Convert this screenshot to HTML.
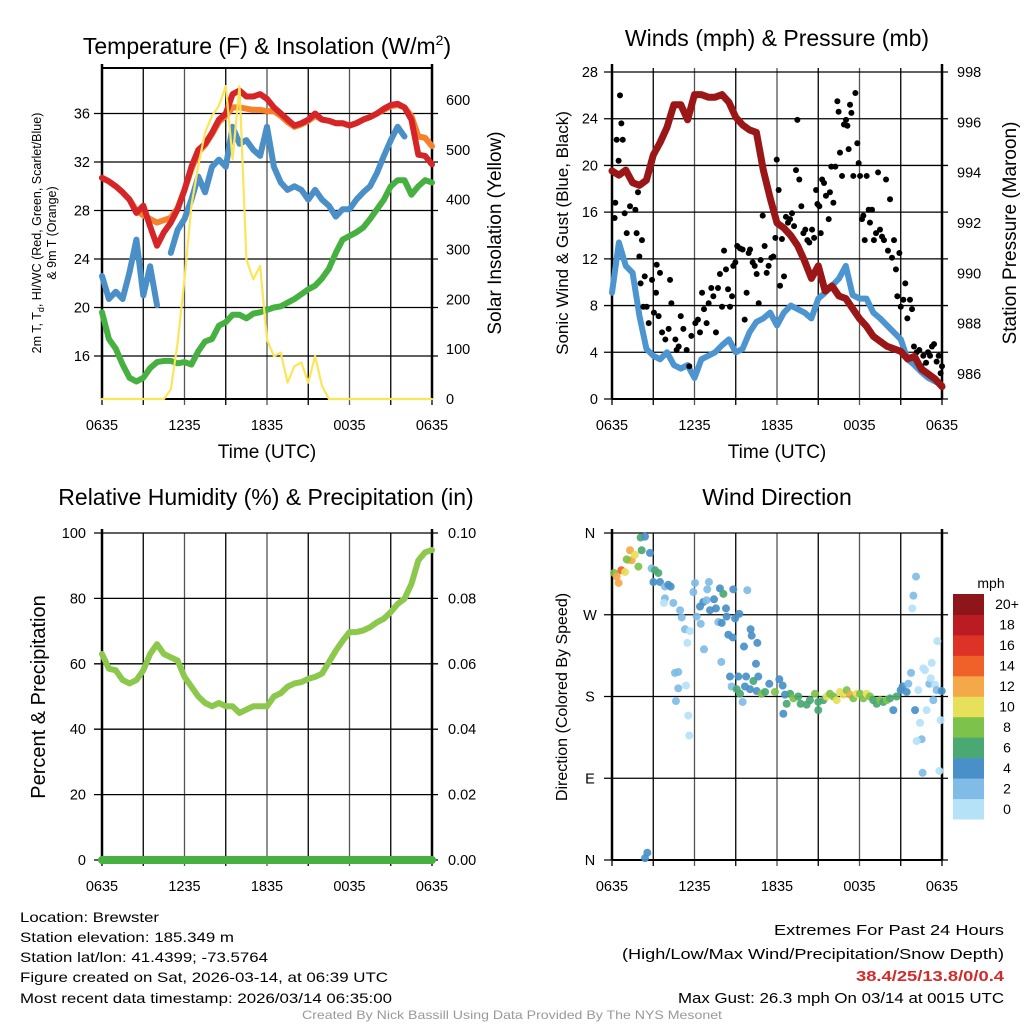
<!DOCTYPE html>
<html><head><meta charset="utf-8"><style>
html,body{margin:0;padding:0;background:#fff;}
svg{display:block;font-family:"Liberation Sans",sans-serif;}
</style></head><body>
<svg id="s" width="1024" height="1024" viewBox="0 0 1024 1024" xmlns="http://www.w3.org/2000/svg">
<g id="g1"></g>
<g id="g2"></g>
<g id="g3"></g>
<g id="g4"></g>
<g id="txt">
<text x="267" y="54" font-size="23" text-anchor="middle">Temperature (F) &amp; Insolation (W/m<tspan font-size="14" dy="-9">2</tspan><tspan dy="9">)</tspan></text>
<text x="777" y="46" font-size="23" text-anchor="middle">Winds (mph) &amp; Pressure (mb)</text>
<text x="266" y="505" font-size="23" text-anchor="middle">Relative Humidity (%) &amp; Precipitation (in)</text>
<text x="777" y="505" font-size="23" text-anchor="middle">Wind Direction</text>
<text x="267" y="458" font-size="19" text-anchor="middle">Time (UTC)</text>
<text x="777" y="458" font-size="19" text-anchor="middle">Time (UTC)</text>
<text transform="translate(41,233) rotate(-90)" font-size="12.5" text-anchor="middle">2m T, T<tspan font-size="9" dy="3">d</tspan><tspan dy="-3">, HI/WC (Red, Green, Scarlet/Blue)</tspan></text>
<text transform="translate(56,233) rotate(-90)" font-size="12.5" text-anchor="middle">&amp; 9m T (Orange)</text>
<text transform="translate(501,233) rotate(-90)" font-size="19" text-anchor="middle">Solar Insolation (Yellow)</text>
<text transform="translate(568,233) rotate(-90)" font-size="17" text-anchor="middle">Sonic Wind &amp; Gust (Blue, Black)</text>
<text transform="translate(1016,233) rotate(-90)" font-size="19" text-anchor="middle">Station Pressure (Maroon)</text>
<text transform="translate(45,697) rotate(-90)" font-size="20" text-anchor="middle">Percent &amp; Precipitation</text>
<text transform="translate(567,697) rotate(-90)" font-size="16" text-anchor="middle">Direction (Colored By Speed)</text>
<text x="991" y="588" font-size="14" text-anchor="middle">mph</text>
<g font-size="14">
<text x="20" y="922" textLength="139" lengthAdjust="spacingAndGlyphs">Location: Brewster</text>
<text x="20" y="942" textLength="214" lengthAdjust="spacingAndGlyphs">Station elevation: 185.349 m</text>
<text x="20" y="962" textLength="248" lengthAdjust="spacingAndGlyphs">Station lat/lon: 41.4399; -73.5764</text>
<text x="20" y="982" textLength="368" lengthAdjust="spacingAndGlyphs">Figure created on Sat, 2026-03-14, at 06:39 UTC</text>
<text x="20" y="1003" textLength="372" lengthAdjust="spacingAndGlyphs">Most recent data timestamp: 2026/03/14 06:35:00</text>
</g>
<g font-size="15">
<text x="774" y="935" textLength="230" lengthAdjust="spacingAndGlyphs">Extremes For Past 24 Hours</text>
<text x="622" y="959" textLength="382" lengthAdjust="spacingAndGlyphs">(High/Low/Max Wind/Precipitation/Snow Depth)</text>
<text x="856" y="981" textLength="148" lengthAdjust="spacingAndGlyphs" fill="#d42a2a" font-weight="bold">38.4/25/13.8/0/0.4</text>
<text x="678" y="1003" textLength="326" lengthAdjust="spacingAndGlyphs">Max Gust: 26.3 mph On 03/14 at 0015 UTC</text>
</g>
<text x="302" y="1019" font-size="12" fill="#999" textLength="420" lengthAdjust="spacingAndGlyphs">Created By Nick Bassill Using Data Provided By The NYS Mesonet</text>
</g>
</svg>
<script>
// ---- data (half-hourly, hours since 0635 UTC) ----
const tempRed = [30.7,30.4,30,29.5,28.9,27.8,28.4,26.7,25.1,26.2,27,28.1,29.7,31.6,33,33.5,34.4,35.5,36,37.6,37.9,37.4,37.4,37.6,37.2,36.5,36,35.5,35,35.2,35.5,36,35.5,35.4,35.2,35.2,35,35.2,35.5,35.7,36,36.4,36.7,36.8,36.5,35.5,32.6,32.5,31.8];
const tempOrange = [30.7,30.4,30,29.5,28.9,28,27.6,27.3,27,27.2,27.4,28.2,29.7,31.4,32.8,33.4,34.3,35.3,35.8,36.5,36.5,36.4,36.3,36.3,36.2,36.2,35.8,35.3,34.9,35.1,35.4,35.8,35.5,35.4,35.2,35.2,35,35.2,35.5,35.7,36,36.3,36.6,36.7,36.5,35.8,34.1,34,33.3];
const heatIndexBlue = [22.6,20.7,21.3,20.7,22.9,25.6,21,23.4,20.2,null,24.5,26.4,27.3,28.9,30.8,29.5,31.6,32.2,31.6,34.9,33.5,33.8,33,32.5,34.9,31.6,30.3,29.7,30,29.7,28.9,29.7,28.9,28.4,27.5,28.1,28.1,28.9,29.5,30,31.1,32.5,33.8,34.9,34.1,null,null,null,null];
const dewGreen = [19.6,17.4,16.6,15.3,14.2,13.9,14.2,15,15.5,15.6,15.6,15.4,15.5,15.3,16.4,17.2,17.4,18.5,18.8,19.4,19.4,19.1,19.5,19.6,19.8,20,20.1,20.4,20.7,21.1,21.5,21.8,22.4,23.2,24.5,25.6,25.9,26.2,26.6,27.3,28.1,28.9,30,30.5,30.5,29.3,30,30.5,30.3];
const insolation = [0,0,0,0,0,0,0,0,0,0,19,112,240,388,468,535,568,588,628,481,628,280,240,267,119,86,93,33,66,73,33,86,26,0,0,0,0,0,0,0,0,0,0,0,0,0,0,0,0];
const sonicWind = [9.1,13.4,11.4,10.8,7.1,4.3,3.7,3.4,4,2.9,2.6,2.9,1.8,3.4,3.7,4,4.6,5.1,4,4.3,5.7,6.6,6.9,7.4,6.3,7.4,8,7.7,7.4,6.9,8.6,9.1,9.7,10.3,11.4,8.9,8.6,8.6,7.4,6.9,6.3,5.7,5.1,3.4,2.9,2.3,1.8,1.5,1.2];
const pressure = [994.07,993.9,994.1,993.6,993.5,993.7,994.7,995.2,995.8,996.7,996.7,996.1,997.1,997.1,997,997,997.1,996.8,996.2,995.9,995.7,995.6,994.1,993,992,991.8,991.5,991.1,990.5,989.8,990.3,989.3,989.5,989.1,989,988.6,988.2,987.9,987.5,987.3,987.1,987,986.9,986.6,986.7,986.2,986,985.8,985.5];
const relHumidity = [63,58.5,58,55,54,55,58,63,66,63,62,61,56,53,50,48,47,48,47,47,45,46,47,47,47,50,51,53,54,54.4,55.4,56,57,60.5,64,67,69.7,69.7,70.2,71.2,72.7,73.8,75.8,78.3,79.9,84.4,91.6,94.1,94.8];
const precip = [0,0,0,0,0,0,0,0,0,0,0,0,0,0,0,0,0,0,0,0,0,0,0,0,0,0,0,0,0,0,0,0,0,0,0,0,0,0,0,0,0,0,0,0,0,0,0,0,0];
const gustHours = [.19,.24,.34,.58,.68,.78,.48,.92,1.07,1.31,1.7,1.79,1.89,1.99,2.08,2.18,2.28,2.38,2.52,2.67,2.91,3.05,3.2,3.25,3.39,3.49,3.64,3.88,4.12,4.22,4.32,4.61,4.7,4.85,5,5.19,5.43,5.62,5.77,6.06,6.25,6.4,6.55,6.69,6.88,7.03,7.22,7.37,7.56,7.71,7.85,8,8.15,8.29,8.44,8.58,8.73,8.82,8.97,9.11,9.31,9.5,9.65,9.79,9.94,10.04,10.23,10.38,10.52,10.67,10.81,10.96,11.1,11.25,11.39,11.59,11.73,11.88,11.98,12.12,12.22,12.36,12.51,12.65,12.8,12.95,13.09,13.24,13.38,13.48,13.62,13.77,13.92,14.06,14.21,14.35,14.55,14.7,14.84,14.94,15.08,15.18,15.28,15.42,15.56,15.76,15.85,15.95,16.1,16.24,16.39,16.48,16.58,16.73,16.87,17.02,17.12,17.21,17.31,17.41,17.55,17.7,17.84,17.94,18.04,18.18,18.28,18.38,18.52,18.67,18.76,18.91,19.05,19.2,19.35,19.49,19.64,19.78,19.93,20.07,20.22,20.36,20.51,20.65,20.75,20.9,21,21.19,21.33,21.48,21.67,21.82,21.96,22.16,22.35,22.5,22.64,22.84,22.98,23.13,23.27,23.42,23.61,23.76,23.9,24];
const gustValues = [15.5,16.8,22.2,26,23.6,22.2,20.4,15.9,14.2,16.5,16.2,14.2,17.7,12.2,9.9,13.6,7.9,10.5,7.9,6.5,10.2,7.4,9.1,11.5,7.1,10.8,5.7,5.1,6,10.2,8.2,5.1,4.2,4.5,7.1,6,4.2,2.8,5.4,6.5,6.8,5.7,9.1,7.7,6.5,8.2,9.5,8.8,5.7,9.5,10.7,7.9,12.7,11.1,9.4,7.9,8.8,11.4,11.7,13.1,12.9,12.8,6.8,9.1,12.5,12.8,11.7,11.4,10.7,8.2,11.9,15.7,13.1,10.8,11.4,12.1,12.2,13.8,20.5,17.9,9.7,13.7,10.5,15.6,15.1,15.4,15.9,14.8,19.6,23.9,18.8,16.5,14.2,14.5,13.6,13.4,14.5,13.8,17.9,16.7,16.5,14.2,18.8,18.5,17.4,15.4,17.7,19.9,16.8,19.9,25.5,24.6,21.1,19.1,23.5,23.9,23.4,21.4,25.2,24.5,19.1,26.2,21.9,20.2,19.1,15.4,15.7,13.6,19.1,16.2,15.1,16.2,13.6,14.2,19.4,14.5,13.9,13.6,18.8,12.7,17.1,12.1,13.6,11.1,8.8,12.5,7.9,8.5,9.9,6.9,8.5,7.7,4.5,4,4.2,2.8,3.7,3.1,4,3.7,4.5,4.7,3.2,3.7,2.2,2.8];
const dirHours = [.15,.34,.68,.48,.95,1.19,1.31,1.43,1.67,1.92,1.07,2.08,2.4,2.16,2.76,2.88,3.13,3.37,3.01,3.49,3.85,4.1,4.27,3.85,3.78,4.46,4.95,5.07,5.31,5.67,5.48,6.04,5.92,6.16,6.4,6.45,6.64,6.88,7.05,6.93,7.13,7.42,7.56,7.73,7.85,8.1,8.29,7.98,8.34,8.82,8.95,9.26,9.84,6.69,4.58,4.82,4.82,4.65,5.38,5.55,5.62,8.46,8.78,10.08,10.16,10.57,9.6,10.47,7.95,8.58,9.19,9.75,10.28,10.64,8.7,9.07,9.31,9.5,9.67,10.04,10.52,10.88,11.13,11.44,11.85,12.17,12.41,12.58,12.7,12.46,12.95,13.19,13.55,13.72,14.16,14.4,14.76,15,15,15.37,15.61,15.85,16.1,16.34,16.58,16.82,17.07,17.31,17.55,17.79,18.04,18.28,18.52,18.76,19,19.25,19.49,19.73,19.98,20.22,20.46,20.7,20.99,21.14,21.43,21.55,21.75,22.04,22.28,22.64,22.76,23.25,23.08,23.18,23.37,23.49,23.61,23.98,22.88,22.4,22.52,22.16,22.59,23.81,23.9,23.66,22.11,21.92,21.84,2.4,2.57];
const dirDegrees = [316,312,319,305,317,330,341,330,336,323,331,355,356,341,338,321,319,316,306,306,301,303,301,288,283,283,275,267,254,252,239,305,295,268,279,260,284,286,306,298,275,287,277,262,299,293,277,261,268,298,266,271,297,232,206,207,189,175,192,159,137,248,245,254,247,239,235,216,218,202,202,202,197,202,191,188,183,174,191,188,186,183,185,194,185,199,192,182,172,161,183,178,180,172,171,176,183,174,165,176,180,183,180,176,185,182,187,182,178,183,183,178,183,180,176,172,176,174,176,178,165,180,187,191,185,194,206,165,187,211,209,217,194,200,176,193,187,186,165,151,133,131,96,98,154,241,312,291,277,2,8];
const dirSpeeds = [8,12,14,12,10,10,12,12,10,8,8,6,4,6,4,2,6,6,4,4,2,4,4,2,1,2,2,2,2,1,1,2,2,2,4,2,4,2,2,2,4,4,4,2,4,6,4,4,4,4,4,4,2,2,2,2,2,2,1,1,1,4,4,4,4,4,4,4,2,4,4,4,6,4,2,6,6,2,4,4,4,8,6,4,8,4,4,4,6,4,6,8,6,6,6,6,8,6,6,6,10,8,8,10,10,10,8,12,8,10,8,8,10,8,6,6,8,6,8,6,4,6,4,4,4,2,2,4,1,1,1,1,2,1,2,1,2,4,1,1,2,1,2,1,1,1,2,2,1,4,4];
const tickLabelsX = ["0635","1235","1835","0035","0635"];
const tempTicks = [16,20,24,28,32,36];
const insolTicks = [0,100,200,300,400,500,600];
const windTicks = [0,4,8,12,16,20,24,28];
const pressTicks = [986,988,990,992,994,996,998];
const rhTicks = [0,20,40,60,80,100];
const precipTicks = ["0.00","0.02","0.04","0.06","0.08","0.10"];
const dirTicks = [0,90,180,270,360];
const dirTickLabels = ["N","E","S","W","N"];
const cbLevels = ["0","2","4","6","8","10","12","14","16","18","20+"];
const cbColors = ["#b6e2f8","#80bce6","#4a90c8","#4aa872","#7dc24b","#e6e05a","#f5a84a","#ef6128","#dd3326","#bb1c24","#8e1519"];

const NS="http://www.w3.org/2000/svg";
function mk(parent,tag,attrs){const e=document.createElementNS(NS,tag);for(const k in attrs)e.setAttribute(k,attrs[k]);parent.appendChild(e);return e;}
const PW=330;
function xs(X0){return h=>X0+h*PW/24;}
function linY(v0,y0,v1,y1){return v=>y0+(v-v0)*(y1-y0)/(v1-v0);}

function frame(g,X0,top,bot,hTicks,yFn){
  const x=xs(X0);
  for(let h=0;h<=24;h+=3){const l=mk(g,'line',{x1:x(h),x2:x(h),y1:top,y2:bot+6,stroke:(h%6==0&&h>0&&h<24)?'#555':'#000','stroke-width':1.3});
    
    }
  hTicks.forEach(v=>{const l=mk(g,'line',{x1:X0-8,x2:X0+PW+6,y1:yFn(v),y2:yFn(v),stroke:'#000','stroke-width':1.3});
    
    });
  const a=mk(g,'line',{x1:X0,x2:X0,y1:top-4,y2:bot,stroke:'#000','stroke-width':2.5});
  
  
  const b=mk(g,'line',{x1:X0+PW,x2:X0+PW,y1:top-4,y2:bot,stroke:'#000','stroke-width':2.5});
  
  
  const c=mk(g,'line',{x1:X0,x2:X0+PW,y1:bot,y2:bot,stroke:'#000','stroke-width':2});
  
  
  tickLabelsX.forEach((t,i)=>{const e=mk(g,'text',{x:x(i*6),y:bot+31,'font-size':14.5,'text-anchor':'middle'});e.textContent=t;
    
    });
}
function yLabels(g,vals,labels,yFn,x,anchor){
  vals.forEach((v,i)=>{const e=mk(g,'text',{x:x,y:yFn(v)+5,'font-size':14.5,'text-anchor':anchor});e.textContent=labels?labels[i]:v;
    
    });
}
function line(g,vals,x,yFn,color,w,name){
  let d='',pen=false;
  vals.forEach((v,i)=>{if(v===null){pen=false;return;}d+=(pen?'L':'M')+x(i*0.5).toFixed(1)+' '+yFn(v).toFixed(1);pen=true;});
  const p=mk(g,'path',{d:d,fill:'none',stroke:color,'stroke-width':w,'stroke-linejoin':'round','stroke-linecap':'round'});
  
  
}

// Panel 1
(function(){
  const g=document.getElementById('g1');const X0=102,top=68,bot=399;const x=xs(X0);
  const yT=linY(16,356,36,113.5), yI=linY(0,399,600,100);
  frame(g,X0,top,bot,tempTicks,yT);
  mk(g,'line',{x1:X0,x2:X0+PW,y1:top,y2:top,stroke:'#000','stroke-width':2});
  yLabels(g,tempTicks,null,yT,90,'end');
  yLabels(g,insolTicks,null,yI,446,'start');
  line(g,dewGreen,x,yT,'#46b040',6,'dewpoint-line');
  line(g,heatIndexBlue,x,yT,'#4a8fc8',6,'windchill-line');
  line(g,tempOrange,x,yT,'#f5822a',6,'9m-temp-line');
  line(g,tempRed,x,yT,'#d62528',6,'2m-temp-line');
  line(g,insolation,x,yI,'#fde55a',2.2,'insolation-line');
})();
// Panel 2
(function(){
  const g=document.getElementById('g2');const X0=612,top=68,bot=399;const x=xs(X0);
  const yW=linY(0,399,28,72), yP=linY(986,374,998,72);
  frame(g,X0,top,bot,windTicks,yW);
  yLabels(g,windTicks,null,yW,598,'end');
  yLabels(g,pressTicks,null,yP,957,'start');
  line(g,sonicWind,x,yW,'#4d95d0',6,'sonic-wind-line');
  gustHours.forEach((h,i)=>{const c=mk(g,'circle',{cx:x(h),cy:yW(gustValues[i]),r:3,fill:'#000'});
    
    });
  line(g,pressure,x,yP,'#9b1717',7,'pressure-line');
})();
// Panel 3
(function(){
  const g=document.getElementById('g3');const X0=102,top=533,bot=860;const x=xs(X0);
  const yR=linY(0,860,100,533), yPr=linY(0,860,0.1,533);
  frame(g,X0,top,bot,rhTicks,yR);
  yLabels(g,rhTicks,null,yR,86,'end');
  yLabels(g,rhTicks,precipTicks,yR,448,'start');
  line(g,relHumidity,x,yR,'#8cc84b',6,'rh-line');
  line(g,precip,x,yPr,'#46b040',8,'precip-line');
})();
// Panel 4
(function(){
  const g=document.getElementById('g4');const X0=612,top=533,bot=860;const x=xs(X0);
  const yD=linY(0,860,360,533);
  frame(g,X0,top,bot,dirTicks,yD);
  yLabels(g,dirTicks,dirTickLabels,yD,590,'middle');
  dirHours.forEach((h,i)=>{const s=dirSpeeds[i];const ci=Math.min(10,Math.floor(s/2));
    const c=mk(g,'circle',{cx:x(h),cy:yD(dirDegrees[i]),r:4,fill:cbColors[ci],'fill-opacity':0.92});
    
    });
  const cbTop=594,cbBot=819,n=cbLevels.length,bh=(cbBot-cbTop)/n;
  cbLevels.forEach((lab,i)=>{const y0=cbBot-(i+1)*bh;
    const r=mk(g,'rect',{x:953,y:y0,width:31,height:bh+0.5,fill:cbColors[i]});
    
    
    const t=mk(g,'text',{x:1007,y:y0+bh/2+5,'font-size':14,'text-anchor':'middle'});t.textContent=lab;
    
    });
})();
</script>
</body></html>
